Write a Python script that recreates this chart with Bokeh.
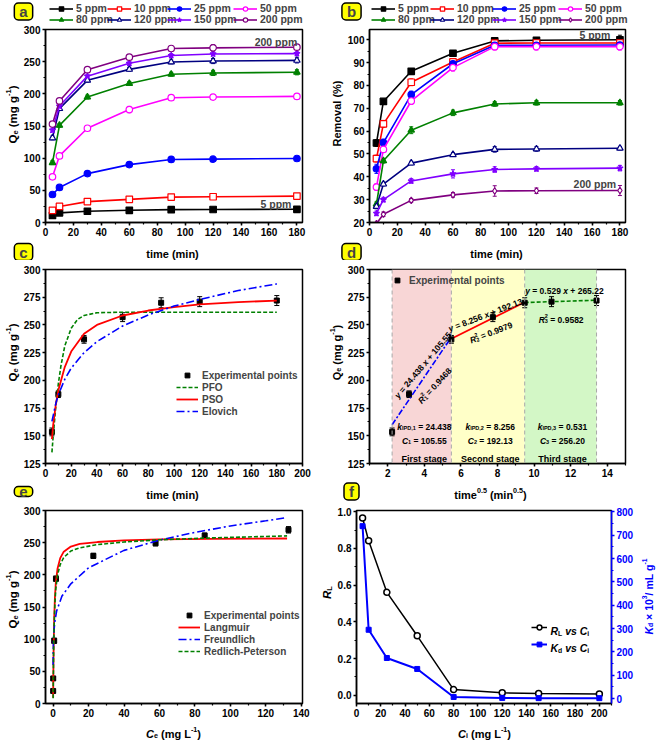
import math
import numpy as np
from bokeh.plotting import figure
from bokeh.models import (Range1d, LinearAxis, SingleIntervalTicker, Label, Legend, LegendItem,
                          Whisker, TeeHead, ColumnDataSource, BoxAnnotation, Span,
                          NumeralTickFormatter)
from bokeh.layouts import column, row
from bokeh.embed import file_html
from bokeh.resources import INLINE

FONT = "Liberation Sans"

# ---------------- data ----------------
time_min = [5, 10, 30, 60, 90, 120, 180]
conc_names = ["5 ppm", "10 ppm", "25 ppm", "50 ppm", "80 ppm", "120 ppm", "150 ppm", "200 ppm"]

# (a) Qe (mg g-1) vs time
qe_5 = [11.0, 15.0, 17.5, 19.0, 20.0, 20.2, 20.5]
qe_10 = [19.0, 25.0, 32.5, 36.0, 39.5, 40.0, 41.0]
qe_25 = [43.5, 54.5, 76.0, 90.0, 98.0, 98.5, 99.5]
qe_50 = [71.0, 103.5, 146.5, 175.5, 194.0, 195.0, 196.0]
qe_80 = [93.0, 151.0, 195.0, 216.0, 230.5, 232.5, 233.5]
qe_120 = [131.5, 177.0, 221.0, 238.0, 249.5, 251.0, 252.0]
qe_150 = [143.5, 181.0, 227.5, 247.5, 259.5, 262.0, 262.5]
qe_200 = [153.0, 189.0, 237.5, 257.0, 270.5, 271.5, 272.5]
qe_err_5 = [1.0, 1.0, 1.0, 1.0, 1.0, 1.0, 1.0]
qe_err_10 = [1.5, 1.5, 1.5, 1.5, 1.5, 1.5, 1.5]
qe_err_25 = [2.0, 2.0, 2.0, 2.0, 4.0, 2.0, 2.0]
qe_err_50 = [2.0, 2.0, 2.0, 5.0, 3.0, 2.0, 2.0]
qe_err_80 = [3.0, 3.0, 3.0, 3.0, 3.0, 4.0, 4.0]
qe_err_120 = [3.0, 3.0, 3.0, 3.0, 3.0, 4.0, 4.0]
qe_err_150 = [3.0, 3.0, 3.0, 3.0, 3.0, 3.0, 3.0]
qe_err_200 = [3.0, 3.0, 3.0, 3.0, 3.0, 5.0, 3.0]

# (b) Removal (%) vs time
rem_5 = [54.8, 73.0, 86.2, 94.1, 99.5, 99.8, 100.0]
rem_10 = [48.0, 63.2, 81.4, 90.3, 98.5, 98.6, 98.6]
rem_25 = [43.5, 55.0, 76.0, 89.5, 97.6, 97.6, 97.7]
rem_50 = [35.5, 52.0, 73.2, 87.8, 97.0, 97.0, 97.0]
rem_80 = [28.0, 47.0, 60.4, 68.0, 71.9, 72.4, 72.4]
rem_120 = [27.0, 36.8, 46.0, 49.7, 52.0, 52.2, 52.5]
rem_150 = [24.0, 30.0, 38.2, 41.3, 43.2, 43.5, 43.8]
rem_200 = [19.5, 23.6, 29.7, 32.1, 33.8, 33.9, 34.0]
rem_err_5 = [1.5, 1.0, 1.0, 0.8, 1.0, 1.2, 2.0]
rem_err_10 = [1.5, 1.5, 1.5, 1.0, 1.0, 1.0, 1.0]
rem_err_25 = [2.0, 1.5, 1.5, 1.0, 1.0, 1.0, 1.0]
rem_err_50 = [1.5, 1.0, 1.5, 1.5, 1.5, 1.5, 1.5]
rem_err_80 = [1.0, 1.0, 1.5, 1.2, 1.0, 1.0, 1.0]
rem_err_120 = [1.0, 0.8, 0.8, 0.8, 1.2, 1.0, 0.8]
rem_err_150 = [1.0, 1.0, 1.0, 1.8, 1.2, 1.0, 1.2]
rem_err_200 = [0.5, 1.0, 0.8, 1.0, 2.3, 1.2, 2.2]

# (c) kinetics at 200 ppm
kin_q = [153.5, 187.5, 237.0, 257.0, 270.0, 271.0, 272.0]
kin_err = [3.5, 3.0, 3.5, 4.0, 4.5, 4.5, 4.5]
pfo_t = [5, 6, 8, 10, 12, 15, 20, 25, 30, 40, 60, 100, 180]
pfo_q = [135, 150, 176, 197, 213, 231, 247, 255, 258.5, 261, 261.5, 261.5, 261.5]
pso_t = [5, 6, 8, 10, 15, 20, 30, 40, 60, 80, 100, 120, 150, 180]
pso_q = [147, 160, 178, 191, 212, 226, 242, 250, 258.5, 263, 266, 268.5, 270.5, 272]
elo_t = [5, 8, 10, 15, 20, 30, 40, 60, 80, 100, 120, 150, 180]
elo_q = [163, 179, 187, 201, 211, 225, 235, 249, 259, 267, 273, 281, 287]

# (d) intraparticle diffusion
stage_names = ["First stage", "Second stage", "Third stage"]
ipd1_x = [2.236, 5.477]
ipd1_y = [160.0, 239.0]
ipd2_x = [5.477, 9.487]
ipd2_y = [237.5, 270.5]
ipd3_x = [9.487, 13.416]
ipd3_y = [270.2, 272.3]

# (e) isotherm
ce = [0.02, 0.05, 0.6, 1.6, 22.7, 57.8, 85.5, 132.8]
qe_iso = [19.5, 39.0, 97.5, 194.0, 229.5, 249.0, 261.0, 270.0]
qe_iso_err = [2.0, 2.0, 4.0, 4.0, 4.0, 4.0, 4.0, 5.0]
lang_ce = [0.02, 0.1, 0.3, 0.6, 1, 1.5, 2.5, 4, 6, 10, 15, 25, 40, 60, 90, 132]
lang_q = [9, 38, 89, 132, 164, 187, 210, 226, 236, 244, 248, 251, 253.5, 255, 256, 256.5]
freu_ce = [0.01, 0.05, 0.2, 0.5, 1, 2, 5, 10, 20, 40, 60, 80, 100, 120, 132]
freu_q = [60, 78, 98, 114, 128, 144, 167, 186, 211, 238, 254, 266, 276, 284, 289]
rp_ce = [0.02, 0.1, 0.3, 0.6, 1, 1.5, 2.5, 4, 6, 10, 15, 25, 40, 60, 90, 132]
rp_q = [8, 35, 84, 125, 155, 178, 200, 216, 227, 237, 242, 247, 251, 254.5, 257.5, 260.5]

# (f) separation factor and distribution coefficient
ci = [5, 10, 25, 50, 80, 120, 150, 200]
rl = [0.966, 0.842, 0.561, 0.324, 0.031, 0.013, 0.010, 0.007]
kd = [739, 295, 174, 127, 7, 3, 2, 2]

# ---------------- styles ----------------
COLORS = ["#000000", "#FF0000", "#0000FF", "#FF00FF", "#008000", "#000080", "#8000FF", "#800080"]
MARK_A = ["square", "square", "circle", "circle", "triangle", "triangle", "star", "circle"]
MARK_B = ["square", "square", "circle", "circle", "triangle", "triangle", "star", "diamond"]
FILLED = [True, False, True, False, True, False, True, False]
STAGE_COLORS = ["#F8D6D6", "#FFFFC8", "#D3F7C6"]

AW = {' ': 278, '!': 333, '%': 889, '(': 333, ')': 333, '+': 584, ',': 278, '-': 333,
      '.': 278, '/': 278, '=': 584, '\u00d7': 584}
for _d in "0123456789":
    AW[_d] = 556
AW.update(dict(zip("ABCDEFGHIJKLMNOPQRSTUVWXYZ",
                   [722, 722, 722, 722, 667, 611, 778, 722, 278, 556, 722, 611, 833, 722, 778,
                    667, 778, 722, 667, 611, 722, 667, 944, 667, 667, 611])))
AW.update(dict(zip("abcdefghijklmnopqrstuvwxyz",
                   [556, 611, 556, 611, 556, 333, 611, 611, 278, 278, 556, 278, 889, 611, 611,
                    611, 611, 389, 556, 333, 611, 556, 778, 556, 556, 500])))


def tw(s, size):
    return sum(AW.get(ch, 556) for ch in s) * size / 1000.0


def rich(p, x, y, parts, size=11.0, units="screen", angle=0.0, color="black",
         align="center", shift=0.0):
    a = math.radians(angle)
    ca, sa = math.cos(a), math.sin(a)
    laid = []
    pos = 0.0
    for text, kind in parts:
        small = kind in ("sb", "sp", "sp0")
        fs = size * 0.65 if small else size
        off = -0.22 * size if kind == "sb" else (0.40 * size if kind in ("sp", "sp0") else 0.0)
        lead = len(text) - len(text.lstrip(" "))
        laid.append((text.strip(" "), kind, fs, pos + tw(" " * lead, fs), off))
        if kind != "sp0":
            pos += tw(text, fs)
    start = {"center": -pos / 2.0, "left": 0.0, "right": -pos}[align]
    for text, kind, fs, s, off in laid:
        al = start + s
        perp = off + shift
        dx = al * ca - perp * sa
        dy = al * sa + perp * ca
        p.add_layout(Label(x=x, y=y, x_units=units, y_units=units, x_offset=dx, y_offset=dy,
                           angle=a, text=text, text_font=FONT, text_font_size=f"{fs:.1f}px",
                           text_font_style="bold italic" if kind == "i" else "bold",
                           text_color=color, text_align="left", text_baseline="alphabetic"))


def style_axis(ax, color="black", size="10px"):
    ax.axis_line_width = 1.5
    ax.axis_line_color = color
    ax.major_tick_line_color = color
    ax.minor_tick_line_color = color
    ax.major_tick_line_width = 1.5
    ax.minor_tick_line_width = 1.2
    ax.major_tick_in = 0
    ax.major_tick_out = 3
    ax.minor_tick_in = 0
    ax.minor_tick_out = 2
    ax.major_label_text_font = FONT
    ax.major_label_text_font_style = "bold"
    ax.major_label_text_font_size = size
    ax.major_label_text_color = color
    ax.major_label_standoff = 2


def make_fig(w, h, xr, yr, bl, br, bt, bb, xint, yint):
    p = figure(width=w, height=h, x_range=Range1d(*xr), y_range=Range1d(*yr),
               output_backend="svg", toolbar_location=None, title=None,
               min_border_left=bl, min_border_right=br, min_border_top=bt, min_border_bottom=bb)
    p.xgrid.visible = False
    p.ygrid.visible = False
    p.outline_line_color = "black"
    p.outline_line_width = 1.5
    p.background_fill_color = "white"
    p.border_fill_color = "white"
    p.xaxis.ticker = SingleIntervalTicker(interval=xint, num_minor_ticks=2)
    p.yaxis.ticker = SingleIntervalTicker(interval=yint, num_minor_ticks=2)
    for ax in p.axis:
        style_axis(ax)
    return p


def strip(w, h):
    s = figure(width=w, height=h, x_range=Range1d(-2, -1), y_range=Range1d(-2, -1),
               output_backend="svg", toolbar_location=None, title=None,
               x_axis_location=None, y_axis_location=None, min_border=0)
    s.grid.visible = False
    s.outline_line_color = None
    s.background_fill_color = "white"
    s.border_fill_color = "white"
    return s


def style_legend(leg, glyph_w=22, row_h=12, size="10px", spacing=0, standoff=3):
    leg.border_line_color = None
    leg.background_fill_alpha = 0
    leg.padding = 0
    leg.margin = 0
    leg.spacing = spacing
    leg.glyph_width = glyph_w
    leg.glyph_height = row_h
    leg.label_height = row_h
    leg.label_standoff = standoff
    leg.label_text_font = FONT
    leg.label_text_font_style = "bold"
    leg.label_text_font_size = size


def tag(p, x, y, letter):
    p.add_layout(Label(x=x, y=y, x_units="screen", y_units="screen", text=letter,
                       text_font=FONT, text_font_style="bold", text_font_size="15px",
                       text_align="center", text_baseline="middle",
                       background_fill_color="#FFFF00", border_line_color="black",
                       border_line_width=1.5, padding=dict(left=5, right=5, top=0, bottom=0),
                       border_radius=4))


def whisk(p, x, y, e, color, head=4):
    y = np.asarray(y, float)
    e = np.asarray(e, float)
    src = ColumnDataSource(dict(x=list(x), lo=y - e, hi=y + e))
    p.add_layout(Whisker(source=src, base="x", lower="lo", upper="hi", line_color=color,
                         line_width=1,
                         upper_head=TeeHead(size=head, line_color=color, line_width=1),
                         lower_head=TeeHead(size=head, line_color=color, line_width=1)))


def series_panel(p, ys, errs, markers):
    for y, e, c, m, f in zip(ys, errs, COLORS, markers, FILLED):
        p.line(time_min, y, line_color=c, line_width=1.6)
        whisk(p, time_min, y, e, c)
        p.scatter(time_min, y, marker=m, size=6.5, line_color=c,
                  fill_color=c if f else "white", line_width=1.2)


def head_legend(h, ys, markers, xs, rows):
    # the header strip draws the same series (outside its visible range) only for the legend
    for i, (name, y, c, m, f) in enumerate(zip(conc_names, ys, COLORS, markers, FILLED)):
        r_line = h.line(time_min, y, line_color=c, line_width=1.6)
        r_sc = h.scatter(time_min, y, marker=m, size=6, line_color=c,
                         fill_color=c if f else "white", line_width=1.2)
        leg = Legend(items=[LegendItem(label=name, renderers=[r_line, r_sc])],
                     location=(xs[i % 4], rows[i // 4]))
        style_legend(leg, glyph_w=24, row_h=11, size="10.5px", standoff=3)
        h.add_layout(leg)


Q_LABEL = [("Q", "n"), ("e", "sb"), (" (mg g", "n"), ("-1", "sp"), (")", "n")]
QE_ALL = [qe_5, qe_10, qe_25, qe_50, qe_80, qe_120, qe_150, qe_200]
REM_ALL = [rem_5, rem_10, rem_25, rem_50, rem_80, rem_120, rem_150, rem_200]

# ================= row 1 =================
# (a)
head_a = strip(326, 25)
head_legend(head_a, QE_ALL, MARK_A, [49, 107, 167, 233], [11, 0])
tag(head_a, 23, 14, "a")
ys_a = strip(20, 215)
rich(ys_a, 12.5, 108, Q_LABEL, size=11.5, angle=90)
pa = make_fig(306, 215, (0, 184), (0, 300), 22, 24, 4, 18, 20, 50)
series_panel(pa, QE_ALL,
             [qe_err_5, qe_err_10, qe_err_25, qe_err_50, qe_err_80, qe_err_120,
              qe_err_150, qe_err_200], MARK_A)
pa.add_layout(Label(x=165, y=281, text="200 ppm", text_font=FONT, text_font_style="bold",
                    text_font_size="10.5px", text_align="center", text_baseline="middle"))
pa.add_layout(Label(x=165, y=29, text="5 ppm", text_font=FONT, text_font_style="bold",
                    text_font_size="10.5px", text_align="center", text_baseline="middle"))
xs_a = strip(326, 20)
rich(xs_a, 172, 7, [("time (min)", "n")], size=11)
tag(xs_a, 23, 8.5, "c")

# (b)
head_b = strip(330, 25)
head_legend(head_b, REM_ALL, MARK_B, [45, 104, 166, 232], [11, 0])
tag(head_b, 25, 14, "b")
ys_b = strip(18, 215)
rich(ys_b, 10, 109, [("Removal (%)", "n")], size=11, angle=90)
pb = make_fig(312, 215, (0, 184), (20, 104.5), 21, 31, 4, 18, 20, 10)
series_panel(pb, REM_ALL,
             [rem_err_5, rem_err_10, rem_err_25, rem_err_50, rem_err_80, rem_err_120,
              rem_err_150, rem_err_200], MARK_B)
pb.add_layout(Label(x=162, y=102.1, text="5 ppm", text_font=FONT, text_font_style="bold",
                    text_font_size="10.5px", text_align="center", text_baseline="middle"))
pb.add_layout(Label(x=162, y=36.7, text="200 ppm", text_font=FONT, text_font_style="bold",
                    text_font_size="10.5px", text_align="center", text_baseline="middle"))
xs_b = strip(330, 20)
rich(xs_b, 170, 7, [("time (min)", "n")], size=11)
tag(xs_b, 25, 8.5, "d")

# ================= row 2 =================
# (c)
ys_c = strip(20, 221)
rich(ys_c, 12.5, 111, Q_LABEL, size=11.5, angle=90)
pc = make_fig(306, 221, (0, 200), (125, 300), 22, 24, 9, 18, 20, 25)
whisk(pc, time_min, kin_q, kin_err, "black", head=5)
r_exp_c = pc.scatter(time_min, kin_q, marker="square", size=5, color="black")
r_pfo = pc.line(pfo_t, pfo_q, line_color="#008000", line_width=1.6, line_dash="4 2")
r_pso = pc.line(pso_t, pso_q, line_color="#FF0000", line_width=1.8)
r_elo = pc.line(elo_t, elo_q, line_color="#0000FF", line_width=1.6, line_dash="8 3 2 3")
leg_c = Legend(items=[LegendItem(label="Experimental points", renderers=[r_exp_c]),
                      LegendItem(label="PFO", renderers=[r_pfo]),
                      LegendItem(label="PSO", renderers=[r_pso]),
                      LegendItem(label="Elovich", renderers=[r_elo])], location=(131, 46))
style_legend(leg_c, glyph_w=22, row_h=12, size="10px", standoff=4)
pc.add_layout(leg_c)
xs_c = strip(326, 20)
rich(xs_c, 172, 7, [("time (min)", "n")], size=11)
tag(xs_c, 23, 10, "e")

# (d)
ys_d = strip(18, 221)
rich(ys_d, 10, 111, Q_LABEL, size=11, angle=90)
pdd = make_fig(312, 221, (1, 15), (125, 300), 21, 31, 9, 18, 2, 25)
sq_t = np.sqrt(np.asarray(time_min, float))
bounds = [sq_t[0], sq_t[2], sq_t[4], sq_t[6]]
for left, right, col in zip(bounds[:-1], bounds[1:], STAGE_COLORS):
    pdd.add_layout(BoxAnnotation(left=left, right=right, fill_color=col, fill_alpha=1.0,
                                 line_color=None, level="underlay"))
for b in bounds:
    pdd.add_layout(Span(location=b, dimension="height", line_color="#A8A8A8",
                        line_dash="4 3", line_width=1))
pdd.line(ipd1_x, ipd1_y, line_color="#0000FF", line_width=1.6, line_dash="6 2 2 2")
pdd.line(ipd2_x, ipd2_y, line_color="#FF0000", line_width=1.8)
pdd.line(ipd3_x, ipd3_y, line_color="#008000", line_width=1.6, line_dash="4 2")
whisk(pdd, sq_t, kin_q, kin_err, "black", head=5)
r_exp_d = pdd.scatter(sq_t, kin_q, marker="square", size=5, color="black")
leg_d = Legend(items=[LegendItem(label="Experimental points", renderers=[r_exp_d])],
               location=(21, 177))
style_legend(leg_d, glyph_w=14, row_h=12, size="10px", standoff=5)
pdd.add_layout(leg_d)
AS = 8.5
rich(pdd, 3.8, 215.5, [("y", "i"), (" = 24.438 ", "n"), ("x", "i"), (" + 105.55", "n")],
     size=AS, units="data", angle=50, shift=-3)
rich(pdd, 4.45, 197, [("R", "i"), ("2", "sp0"), ("1", "sb"), (" = 0.9468", "n")],
     size=AS, units="data", angle=47, shift=-3)
rich(pdd, 7.28, 261.5, [("y", "i"), (" = 8.256 ", "n"), ("x", "i"), (" + 192.13", "n")],
     size=AS, units="data", angle=21, shift=-3)
rich(pdd, 7.59, 245.6, [("R", "i"), ("2", "sp0"), ("2", "sb"), (" = 0.9979", "n")],
     size=AS, units="data", angle=21, shift=-3)
rich(pdd, 11.66, 283.5, [("y", "i"), (" = 0.529 ", "n"), ("x", "i"), (" + 265.22", "n")],
     size=AS, units="data", shift=-3)
rich(pdd, 11.48, 257.6, [("R", "i"), ("2", "sp0"), ("3", "sb"), (" = 0.9582", "n")],
     size=AS, units="data", shift=-3)
k_texts = [" = 24.438", " = 8.256", " = 0.531"]
c_texts = [" = 105.55", " = 192.13", " = 256.20"]
stage_x = [4.0, 7.6, 11.55]
for i in range(3):
    rich(pdd, stage_x[i], 161, [("k", "i"), (f"IPD,{i + 1}", "sb"), (k_texts[i], "n")],
         size=AS, units="data", shift=-3)
    rich(pdd, stage_x[i], 148.4, [("C", "i"), (f"{i + 1}", "sb"), (c_texts[i], "n")],
         size=AS, units="data", shift=-3)
    rich(pdd, stage_x[i], 132.2, [(stage_names[i], "n")], size=9, units="data", shift=-3)
xs_d = strip(330, 20)
rich(xs_d, 164, 7, [("time", "n"), ("0.5", "sp"), (" (min", "n"), ("0.5", "sp"), (")", "n")],
     size=11)
tag(xs_d, 25, 10, "f")

# ================= row 3 =================
# (e)
ys_e = strip(20, 220)
rich(ys_e, 12.5, 104, Q_LABEL, size=11.5, angle=90)
pe = make_fig(296, 220, (-4.3, 140.7), (0, 300), 22, 14, 9, 18, 20, 50)
whisk(pe, ce, qe_iso, qe_iso_err, "black", head=5)
r_exp_e = pe.scatter(ce, qe_iso, marker="square", size=5, color="black")
r_lang = pe.line(lang_ce, lang_q, line_color="#FF0000", line_width=1.8)
r_freu = pe.line(freu_ce, freu_q, line_color="#0000FF", line_width=1.6, line_dash="8 3 2 3")
r_rp = pe.line(rp_ce, rp_q, line_color="#008000", line_width=1.6, line_dash="4 2")
leg_e = Legend(items=[LegendItem(label="Experimental points", renderers=[r_exp_e]),
                      LegendItem(label="Langmuir", renderers=[r_lang]),
                      LegendItem(label="Freundlich", renderers=[r_freu]),
                      LegendItem(label="Redlich-Peterson", renderers=[r_rp])],
               location=(133, 46))
style_legend(leg_e, glyph_w=22, row_h=12, size="10px", standoff=4)
pe.add_layout(leg_e)
xs_e = strip(316, 19)
rich(xs_e, 173, 7, [("C", "i"), ("e", "sb"), (" (mg L", "n"), ("-1", "sp"), (")", "n")], size=11)

# (f)
ys_f = strip(18, 220)
rich(ys_f, 10, 111, [("R", "i"), ("L", "sb")], size=11.5, angle=90)
pf = make_fig(302, 220, (0, 210), (-0.045, 1.007), 19, 23, 9, 18, 20, 0.2)
pf.yaxis[0].formatter = NumeralTickFormatter(format="0.0")
pf.extra_y_ranges = {"kd": Range1d(-21, 806)}
ax_r = LinearAxis(y_range_name="kd", ticker=SingleIntervalTicker(interval=100, num_minor_ticks=2))
style_axis(ax_r, color="#0000FF")
pf.add_layout(ax_r, "right")
r_rl_l = pf.line(ci, rl, line_color="black", line_width=1.5)
r_rl_s = pf.scatter(ci, rl, marker="circle", size=6, line_color="black", fill_color="white",
                    line_width=1.5)
r_kd_l = pf.line(ci, kd, y_range_name="kd", line_color="#0000FF", line_width=2)
r_kd_s = pf.scatter(ci, kd, y_range_name="kd", marker="square", size=5, color="#0000FF")
leg_f = Legend(items=[LegendItem(label=" ", renderers=[r_rl_l, r_rl_s]),
                      LegendItem(label=" ", renderers=[r_kd_l, r_kd_s])], location=(175, 53))
style_legend(leg_f, glyph_w=16, row_h=12, size="10px", spacing=5, standoff=3)
pf.add_layout(leg_f)
rich(pf, 194, 72.6, [("R", "i"), ("L", "sb"), (" vs ", "i"), ("C", "i"), ("i", "sb")],
     size=10.5, align="left")
rich(pf, 194, 55.3, [("K", "i"), ("d", "sb"), (" vs ", "i"), ("C", "i"), ("i", "sb")],
     size=10.5, align="left")
rs_f = strip(20, 220)
rich(rs_f, 12, 107, [("K", "i"), ("d", "sb"), (" \u00d7 10", "n"), ("3", "sp"), ("/ mL g", "n"),
                     ("-1", "sp")], size=10.5, angle=90, color="#0000FF")
xs_f = strip(340, 19)
rich(xs_f, 168, 7, [("C", "i"), ("i", "sb"), (" (mg L", "n"), ("-1", "sp"), (")", "n")], size=11)

col_a = column(head_a, row(ys_a, pa), xs_a)
col_b = column(head_b, row(ys_b, pb), xs_b)
col_c = column(row(ys_c, pc), xs_c)
col_d = column(row(ys_d, pdd), xs_d)
col_e = column(row(ys_e, pe), xs_e)
col_f = column(row(ys_f, pf, rs_f), xs_f)
layout = column(row(col_a, col_b), row(col_c, col_d), row(col_e, col_f))
open("out.html", "w").write(file_html(layout, INLINE))
